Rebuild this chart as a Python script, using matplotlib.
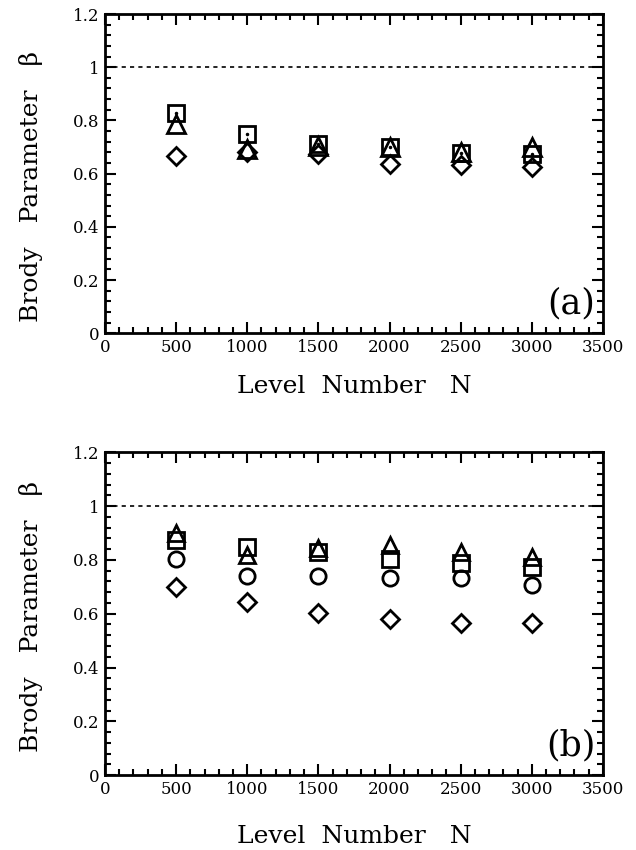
import numpy as np
import matplotlib
matplotlib.use("Agg")
import matplotlib.pyplot as plt
from matplotlib.ticker import MultipleLocator, FuncFormatter

level_n = [500, 1000, 1500, 2000, 2500, 3000]

# panel (a)
a_square = [0.828, 0.748, 0.713, 0.700, 0.679, 0.673]
a_triangle = [0.788, 0.694, 0.704, 0.700, 0.680, 0.700]
a_diamond = [0.667, 0.682, 0.673, 0.638, 0.632, 0.625]

# panel (b)
b_triangle = [0.900, 0.819, 0.844, 0.854, 0.830, 0.810]
b_square = [0.873, 0.848, 0.829, 0.804, 0.790, 0.773]
b_circle = [0.804, 0.739, 0.739, 0.733, 0.733, 0.708]
b_diamond = [0.700, 0.645, 0.604, 0.582, 0.564, 0.564]

plt.rcParams["font.family"] = ["DejaVu Serif"]


def fmt_y(v, pos):
    if abs(v) < 1e-9:
        return "0"
    if abs(v - round(v)) < 1e-9:
        return "%d" % round(v)
    return "%.1f" % v


def style_axes(ax, tag, xlab_y, ylab_y):
    ax.set_xlim(0, 3500)
    ax.set_ylim(0, 1.2)
    ax.axhline(1.0, color="black", lw=1.2, ls=(0, (2.5, 2.5)))
    ax.xaxis.set_major_locator(MultipleLocator(500))
    ax.xaxis.set_minor_locator(MultipleLocator(100))
    ax.yaxis.set_major_locator(MultipleLocator(0.2))
    ax.yaxis.set_minor_locator(MultipleLocator(0.04))
    ax.yaxis.set_major_formatter(FuncFormatter(fmt_y))
    ax.xaxis.set_major_formatter(FuncFormatter(lambda v, p: "%d" % v))
    ax.tick_params(which="both", direction="in", top=True, right=True,
                   labelsize=12, width=1.5)
    ax.tick_params(which="major", length=8, pad=4)
    ax.tick_params(which="minor", length=4.5)
    for s in ax.spines.values():
        s.set_linewidth(2)
    ax.set_xlabel("Level  Number   N", fontsize=18)
    ax.xaxis.set_label_coords(0.5, xlab_y)
    ax.set_ylabel("Brody   Parameter   \u03b2", fontsize=18)
    ax.yaxis.set_label_coords(-0.125, ylab_y)
    ax.text(0.985, 0.04, tag, transform=ax.transAxes, ha="right", va="bottom",
            fontsize=25)


fig = plt.figure(figsize=(6.36, 8.5), dpi=100)
ax1 = fig.add_axes([0.165, 0.608, 0.783, 0.3755])
ax2 = fig.add_axes([0.165, 0.088, 0.783, 0.380])

mk = dict(ls="none", mfc="none", mec="black", mew=2)

ax1.plot(level_n, a_diamond, marker="D", ms=9.5, **mk)
ax1.plot(level_n, a_triangle, marker="^", ms=13, **mk)
ax1.plot(level_n, a_square, marker="s", ms=12, **mk)
ax1.plot(level_n, a_square, ls="none", marker=".", ms=3, color="black")
style_axes(ax1, "(a)", -0.13, 0.46)

ax2.plot(level_n, b_diamond, marker="D", ms=9.5, **mk)
ax2.plot(level_n, b_circle, marker="o", ms=11, **mk)
ax2.plot(level_n, b_square, marker="s", ms=11.5, **mk)
ax2.plot(level_n, b_triangle, marker="^", ms=12, **mk)
style_axes(ax2, "(b)", -0.155, 0.49)

fig.savefig("out.png", dpi=100)
plt.close(fig)
